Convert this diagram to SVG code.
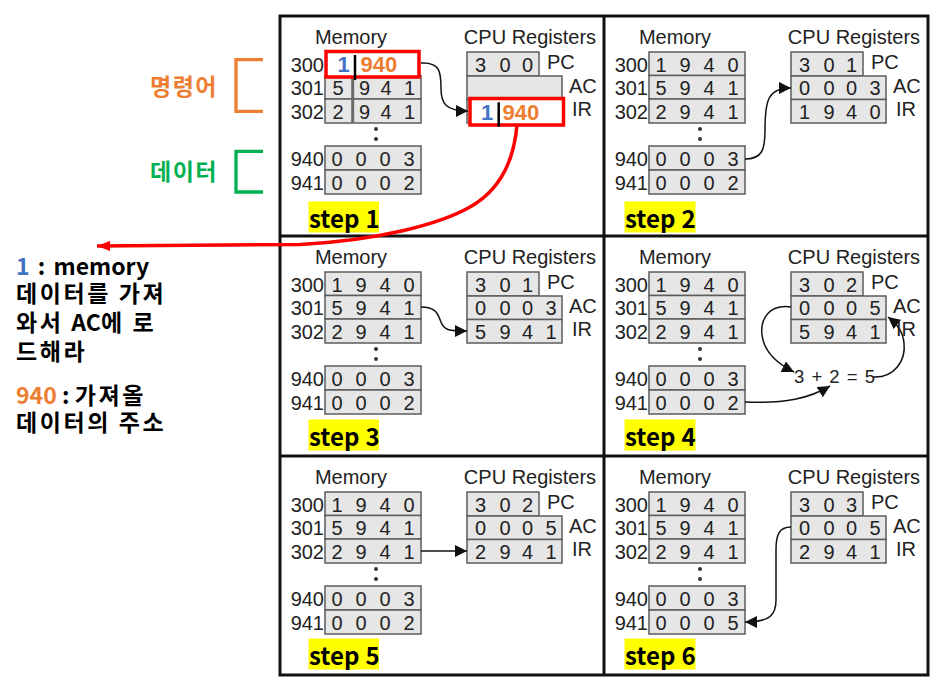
<svg xmlns="http://www.w3.org/2000/svg" width="950" height="690" viewBox="0 0 950 690">
<defs>
<style>
.t{font-family:"Liberation Sans",Arial,sans-serif;font-size:20px;fill:#222}
.m{text-anchor:middle}
.e{text-anchor:end}
.c{fill:#e6e6e6;stroke:#5c5c5c;stroke-width:1.5}
.st{fill:#ffff00}
.sl{font-family:"Noto Sans CJK KR","Noto Sans",sans-serif;font-weight:700;font-size:24px;fill:#000}
.kr{font-family:"Noto Sans CJK KR","Noto Sans",sans-serif;font-weight:700;font-size:23px;fill:#000}
.ls{letter-spacing:2.6px}
.dot{fill:#333}
.conn{fill:none;stroke:#111;stroke-width:1.5;marker-end:url(#ah)}
.red{fill:none;stroke:#ff0000;stroke-width:3.5}
.hl{font-family:"Liberation Sans",Arial,sans-serif;font-weight:700;font-size:22px}
</style>
<marker id="ah" viewBox="0 0 12 12" refX="12" refY="6" markerWidth="12" markerHeight="12" markerUnits="userSpaceOnUse" orient="auto"><path d="M0,0 L12,6 L0,12 z" fill="#111"/></marker>
<marker id="rah" viewBox="0 0 13 10" refX="13" refY="5" markerWidth="13" markerHeight="10" markerUnits="userSpaceOnUse" orient="auto"><path d="M0,0 L13,5 L0,10 z" fill="#ff0000"/></marker>
</defs>
<rect width="950" height="690" fill="#fff"/>

<g id="frame" fill="none" stroke="#111" stroke-width="3">
<rect x="280" y="16" width="648" height="659"/>
<line x1="604" y1="16" x2="604" y2="675"/>
<line x1="280" y1="236" x2="928" y2="236"/>
<line x1="280" y1="456" x2="928" y2="456"/>
</g>

<g id="legend">
<text class="kr" x="150" y="95" style="fill:#ED7D31;letter-spacing:1.5px">명령어</text>
<path d="M263,59.7 L236,59.7 L236,111.3 L263,111.3" fill="none" stroke="#ED7D31" stroke-width="3.3"/>
<text class="kr" x="150" y="180" style="fill:#00B050;letter-spacing:1.5px">데이터</text>
<path d="M263,151.3 L236,151.3 L236,192 L263,192" fill="none" stroke="#00B050" stroke-width="3.3"/>
</g>

<g id="explanation">
<text class="kr" x="16" y="275" style="word-spacing:3px"><tspan style="fill:#4472C4">1</tspan> : memory</text>
<text class="kr ls" x="16" y="302">데이터를 가져</text>
<text class="kr" x="16" y="331"><tspan class="ls">와서 </tspan>AC<tspan class="ls">에 로</tspan></text>
<text class="kr ls" x="16" y="360">드해라</text>
<text class="kr" x="16" y="404"><tspan style="fill:#ED7D31">940</tspan> : <tspan class="ls">가져올</tspan></text>
<text class="kr ls" x="16" y="431">데이터의 주소</text>
</g>

<!-- STEP 1 -->
<g id="step1" transform="translate(280,16)">
<text class="t m" x="71" y="27.5">Memory</text>
<text class="t m" x="250" y="27.5">CPU Registers</text>
<g id="step1-memory">
<rect class="c" x="45" y="59.5" width="96" height="23.5"/>
<rect class="c" x="45" y="83" width="96" height="24"/>
<rect class="c" x="45" y="130" width="96" height="24"/>
<rect class="c" x="45" y="154" width="96" height="24"/>
<line x1="72.7" y1="61" x2="72.7" y2="107" stroke="#6a6a6a" stroke-width="3"/>
<rect x="46" y="35.5" width="93" height="25.5" fill="#fff" stroke="#ff0000" stroke-width="3.5"/>
<text class="hl m" x="63.5" y="56.3" fill="#4472C4">1</text>
<line x1="75" y1="39" x2="75" y2="64" stroke="#000" stroke-width="2.5"/>
<text class="hl" x="80.5" y="56.3" fill="#ED7D31">940</text>
<text class="t e" x="44" y="55.5">300</text>
<text class="t e" x="44" y="79">301</text>
<text class="t e" x="44" y="102.5">302</text>
<text class="t e" x="44" y="149.5">940</text>
<text class="t e" x="44" y="173.5">941</text>
<text class="t m" y="79"><tspan x="58">5</tspan><tspan x="84.5">9</tspan><tspan x="106">4</tspan><tspan x="129.5">1</tspan></text>
<text class="t m" y="102.5"><tspan x="58">2</tspan><tspan x="84.5">9</tspan><tspan x="106">4</tspan><tspan x="129.5">1</tspan></text>
<text class="t m" y="149.5"><tspan x="57">0</tspan><tspan x="81">0</tspan><tspan x="105">0</tspan><tspan x="129">3</tspan></text>
<text class="t m" y="173.5"><tspan x="57">0</tspan><tspan x="81">0</tspan><tspan x="105">0</tspan><tspan x="129">2</tspan></text>
<circle class="dot" cx="96" cy="113" r="2"/><circle class="dot" cx="96" cy="123" r="2"/>
</g>
<g id="step1-registers">
<rect class="c" x="187" y="36" width="72" height="24"/>
<rect class="c" x="187" y="60" width="95" height="23.5"/>
<rect class="c" x="187" y="83.5" width="95" height="23.5"/>
<text class="t m" y="55.5"><tspan x="200.5">3</tspan><tspan x="225">0</tspan><tspan x="247.5">0</tspan></text>
<rect x="190" y="82.5" width="93.5" height="26.5" fill="#fff" stroke="#ff0000" stroke-width="3.5"/>
<text class="hl m" x="207" y="104" fill="#4472C4">1</text>
<line x1="218.7" y1="86.3" x2="218.7" y2="110.7" stroke="#000" stroke-width="2.5"/>
<text class="hl" x="222.5" y="104" fill="#ED7D31">940</text>
<text class="t" x="267" y="53">PC</text>
<text class="t" x="289" y="76.5">AC</text>
<text class="t" x="292" y="100">IR</text>
</g>
<rect class="st" x="28.5" y="185.5" width="70.5" height="31"/>
<text class="sl" x="29" y="211.5">step<tspan x="85.5">1</tspan></text>
</g>

<!-- STEP 2 -->
<g id="step2" transform="translate(604,16)">
<text class="t m" x="71" y="27.5">Memory</text>
<text class="t m" x="250" y="27.5">CPU Registers</text>
<g id="step2-memory">
<rect class="c" x="45" y="36" width="96" height="23.5"/>
<rect class="c" x="45" y="59.5" width="96" height="23.5"/>
<rect class="c" x="45" y="83" width="96" height="24"/>
<rect class="c" x="45" y="130" width="96" height="24"/>
<rect class="c" x="45" y="154" width="96" height="24"/>
<text class="t e" x="44" y="55.5">300</text>
<text class="t e" x="44" y="79">301</text>
<text class="t e" x="44" y="102.5">302</text>
<text class="t e" x="44" y="149.5">940</text>
<text class="t e" x="44" y="173.5">941</text>
<text class="t m" y="55.5"><tspan x="57">1</tspan><tspan x="81">9</tspan><tspan x="105">4</tspan><tspan x="129">0</tspan></text>
<text class="t m" y="79"><tspan x="57">5</tspan><tspan x="81">9</tspan><tspan x="105">4</tspan><tspan x="129">1</tspan></text>
<text class="t m" y="102.5"><tspan x="57">2</tspan><tspan x="81">9</tspan><tspan x="105">4</tspan><tspan x="129">1</tspan></text>
<text class="t m" y="149.5"><tspan x="57">0</tspan><tspan x="81">0</tspan><tspan x="105">0</tspan><tspan x="129">3</tspan></text>
<text class="t m" y="173.5"><tspan x="57">0</tspan><tspan x="81">0</tspan><tspan x="105">0</tspan><tspan x="129">2</tspan></text>
<circle class="dot" cx="96" cy="113" r="2"/><circle class="dot" cx="96" cy="123" r="2"/>
</g>
<g id="step2-registers">
<rect class="c" x="187" y="36" width="72" height="24"/>
<rect class="c" x="187" y="60" width="95" height="23.5"/>
<rect class="c" x="187" y="83.5" width="95" height="23.5"/>
<text class="t m" y="55.5"><tspan x="200.5">3</tspan><tspan x="225">0</tspan><tspan x="247.5">1</tspan></text>
<text class="t m" y="79"><tspan x="200.5">0</tspan><tspan x="225">0</tspan><tspan x="247.5">0</tspan><tspan x="271">3</tspan></text>
<text class="t m" y="102.5"><tspan x="200.5">1</tspan><tspan x="225">9</tspan><tspan x="247.5">4</tspan><tspan x="271">0</tspan></text>
<text class="t" x="267" y="53">PC</text>
<text class="t" x="289" y="76.5">AC</text>
<text class="t" x="292" y="100">IR</text>
</g>
<rect class="st" x="20.5" y="185.5" width="71" height="31"/>
<text class="sl" x="21" y="211.5">step<tspan x="77.5">2</tspan></text>
</g>

<!-- STEP 3 -->
<g id="step3" transform="translate(280,236)">
<text class="t m" x="71" y="27.5">Memory</text>
<text class="t m" x="250" y="27.5">CPU Registers</text>
<g id="step3-memory">
<rect class="c" x="45" y="36" width="96" height="23.5"/>
<rect class="c" x="45" y="59.5" width="96" height="23.5"/>
<rect class="c" x="45" y="83" width="96" height="24"/>
<rect class="c" x="45" y="130" width="96" height="24"/>
<rect class="c" x="45" y="154" width="96" height="24"/>
<text class="t e" x="44" y="55.5">300</text>
<text class="t e" x="44" y="79">301</text>
<text class="t e" x="44" y="102.5">302</text>
<text class="t e" x="44" y="149.5">940</text>
<text class="t e" x="44" y="173.5">941</text>
<text class="t m" y="55.5"><tspan x="57">1</tspan><tspan x="81">9</tspan><tspan x="105">4</tspan><tspan x="129">0</tspan></text>
<text class="t m" y="79"><tspan x="57">5</tspan><tspan x="81">9</tspan><tspan x="105">4</tspan><tspan x="129">1</tspan></text>
<text class="t m" y="102.5"><tspan x="57">2</tspan><tspan x="81">9</tspan><tspan x="105">4</tspan><tspan x="129">1</tspan></text>
<text class="t m" y="149.5"><tspan x="57">0</tspan><tspan x="81">0</tspan><tspan x="105">0</tspan><tspan x="129">3</tspan></text>
<text class="t m" y="173.5"><tspan x="57">0</tspan><tspan x="81">0</tspan><tspan x="105">0</tspan><tspan x="129">2</tspan></text>
<circle class="dot" cx="96" cy="113" r="2"/><circle class="dot" cx="96" cy="123" r="2"/>
</g>
<g id="step3-registers">
<rect class="c" x="187" y="36" width="72" height="24"/>
<rect class="c" x="187" y="60" width="95" height="23.5"/>
<rect class="c" x="187" y="83.5" width="95" height="23.5"/>
<text class="t m" y="55.5"><tspan x="200.5">3</tspan><tspan x="225">0</tspan><tspan x="247.5">1</tspan></text>
<text class="t m" y="79"><tspan x="200.5">0</tspan><tspan x="225">0</tspan><tspan x="247.5">0</tspan><tspan x="271">3</tspan></text>
<text class="t m" y="102.5"><tspan x="200.5">5</tspan><tspan x="225">9</tspan><tspan x="247.5">4</tspan><tspan x="271">1</tspan></text>
<text class="t" x="267" y="53">PC</text>
<text class="t" x="289" y="76.5">AC</text>
<text class="t" x="292" y="100">IR</text>
</g>
<rect class="st" x="28.5" y="183.5" width="70.5" height="31"/>
<text class="sl" x="29" y="209.5">step<tspan x="85.5">3</tspan></text>
</g>

<!-- STEP 4 -->
<g id="step4" transform="translate(604,236)">
<text class="t m" x="71" y="27.5">Memory</text>
<text class="t m" x="250" y="27.5">CPU Registers</text>
<g id="step4-memory">
<rect class="c" x="45" y="36" width="96" height="23.5"/>
<rect class="c" x="45" y="59.5" width="96" height="23.5"/>
<rect class="c" x="45" y="83" width="96" height="24"/>
<rect class="c" x="45" y="130" width="96" height="24"/>
<rect class="c" x="45" y="154" width="96" height="24"/>
<text class="t e" x="44" y="55.5">300</text>
<text class="t e" x="44" y="79">301</text>
<text class="t e" x="44" y="102.5">302</text>
<text class="t e" x="44" y="149.5">940</text>
<text class="t e" x="44" y="173.5">941</text>
<text class="t m" y="55.5"><tspan x="57">1</tspan><tspan x="81">9</tspan><tspan x="105">4</tspan><tspan x="129">0</tspan></text>
<text class="t m" y="79"><tspan x="57">5</tspan><tspan x="81">9</tspan><tspan x="105">4</tspan><tspan x="129">1</tspan></text>
<text class="t m" y="102.5"><tspan x="57">2</tspan><tspan x="81">9</tspan><tspan x="105">4</tspan><tspan x="129">1</tspan></text>
<text class="t m" y="149.5"><tspan x="57">0</tspan><tspan x="81">0</tspan><tspan x="105">0</tspan><tspan x="129">3</tspan></text>
<text class="t m" y="173.5"><tspan x="57">0</tspan><tspan x="81">0</tspan><tspan x="105">0</tspan><tspan x="129">2</tspan></text>
<circle class="dot" cx="96" cy="113" r="2"/><circle class="dot" cx="96" cy="123" r="2"/>
</g>
<g id="step4-registers">
<rect class="c" x="187" y="36" width="72" height="24"/>
<rect class="c" x="187" y="60" width="95" height="23.5"/>
<rect class="c" x="187" y="83.5" width="95" height="23.5"/>
<text class="t m" y="55.5"><tspan x="200.5">3</tspan><tspan x="225">0</tspan><tspan x="247.5">2</tspan></text>
<text class="t m" y="79"><tspan x="200.5">0</tspan><tspan x="225">0</tspan><tspan x="247.5">0</tspan><tspan x="271">5</tspan></text>
<text class="t m" y="102.5"><tspan x="200.5">5</tspan><tspan x="225">9</tspan><tspan x="247.5">4</tspan><tspan x="271">1</tspan></text>
<text class="t" x="267" y="53">PC</text>
<text class="t" x="289" y="76.5">AC</text>
<text class="t" x="292" y="100">IR</text>
</g>
<text class="t" x="190" y="147.3" style="font-size:18.5px;letter-spacing:1px">3 + 2 = 5</text>
<rect class="st" x="20.5" y="183.5" width="71" height="31"/>
<text class="sl" x="21" y="209.5">step<tspan x="77.5">4</tspan></text>
</g>

<!-- STEP 5 -->
<g id="step5" transform="translate(280,456)">
<text class="t m" x="71" y="27.5">Memory</text>
<text class="t m" x="250" y="27.5">CPU Registers</text>
<g id="step5-memory">
<rect class="c" x="45" y="36" width="96" height="23.5"/>
<rect class="c" x="45" y="59.5" width="96" height="23.5"/>
<rect class="c" x="45" y="83" width="96" height="24"/>
<rect class="c" x="45" y="130" width="96" height="24"/>
<rect class="c" x="45" y="154" width="96" height="24"/>
<text class="t e" x="44" y="55.5">300</text>
<text class="t e" x="44" y="79">301</text>
<text class="t e" x="44" y="102.5">302</text>
<text class="t e" x="44" y="149.5">940</text>
<text class="t e" x="44" y="173.5">941</text>
<text class="t m" y="55.5"><tspan x="57">1</tspan><tspan x="81">9</tspan><tspan x="105">4</tspan><tspan x="129">0</tspan></text>
<text class="t m" y="79"><tspan x="57">5</tspan><tspan x="81">9</tspan><tspan x="105">4</tspan><tspan x="129">1</tspan></text>
<text class="t m" y="102.5"><tspan x="57">2</tspan><tspan x="81">9</tspan><tspan x="105">4</tspan><tspan x="129">1</tspan></text>
<text class="t m" y="149.5"><tspan x="57">0</tspan><tspan x="81">0</tspan><tspan x="105">0</tspan><tspan x="129">3</tspan></text>
<text class="t m" y="173.5"><tspan x="57">0</tspan><tspan x="81">0</tspan><tspan x="105">0</tspan><tspan x="129">2</tspan></text>
<circle class="dot" cx="96" cy="113" r="2"/><circle class="dot" cx="96" cy="123" r="2"/>
</g>
<g id="step5-registers">
<rect class="c" x="187" y="36" width="72" height="24"/>
<rect class="c" x="187" y="60" width="95" height="23.5"/>
<rect class="c" x="187" y="83.5" width="95" height="23.5"/>
<text class="t m" y="55.5"><tspan x="200.5">3</tspan><tspan x="225">0</tspan><tspan x="247.5">2</tspan></text>
<text class="t m" y="79"><tspan x="200.5">0</tspan><tspan x="225">0</tspan><tspan x="247.5">0</tspan><tspan x="271">5</tspan></text>
<text class="t m" y="102.5"><tspan x="200.5">2</tspan><tspan x="225">9</tspan><tspan x="247.5">4</tspan><tspan x="271">1</tspan></text>
<text class="t" x="267" y="53">PC</text>
<text class="t" x="289" y="76.5">AC</text>
<text class="t" x="292" y="100">IR</text>
</g>
<rect class="st" x="28.5" y="182.5" width="70.5" height="31"/>
<text class="sl" x="29" y="208.5">step<tspan x="85.5">5</tspan></text>
</g>

<!-- STEP 6 -->
<g id="step6" transform="translate(604,456)">
<text class="t m" x="71" y="27.5">Memory</text>
<text class="t m" x="250" y="27.5">CPU Registers</text>
<g id="step6-memory">
<rect class="c" x="45" y="36" width="96" height="23.5"/>
<rect class="c" x="45" y="59.5" width="96" height="23.5"/>
<rect class="c" x="45" y="83" width="96" height="24"/>
<rect class="c" x="45" y="130" width="96" height="24"/>
<rect class="c" x="45" y="154" width="96" height="24"/>
<text class="t e" x="44" y="55.5">300</text>
<text class="t e" x="44" y="79">301</text>
<text class="t e" x="44" y="102.5">302</text>
<text class="t e" x="44" y="149.5">940</text>
<text class="t e" x="44" y="173.5">941</text>
<text class="t m" y="55.5"><tspan x="57">1</tspan><tspan x="81">9</tspan><tspan x="105">4</tspan><tspan x="129">0</tspan></text>
<text class="t m" y="79"><tspan x="57">5</tspan><tspan x="81">9</tspan><tspan x="105">4</tspan><tspan x="129">1</tspan></text>
<text class="t m" y="102.5"><tspan x="57">2</tspan><tspan x="81">9</tspan><tspan x="105">4</tspan><tspan x="129">1</tspan></text>
<text class="t m" y="149.5"><tspan x="57">0</tspan><tspan x="81">0</tspan><tspan x="105">0</tspan><tspan x="129">3</tspan></text>
<text class="t m" y="173.5"><tspan x="57">0</tspan><tspan x="81">0</tspan><tspan x="105">0</tspan><tspan x="129">5</tspan></text>
<circle class="dot" cx="96" cy="113" r="2"/><circle class="dot" cx="96" cy="123" r="2"/>
</g>
<g id="step6-registers">
<rect class="c" x="187" y="36" width="72" height="24"/>
<rect class="c" x="187" y="60" width="95" height="23.5"/>
<rect class="c" x="187" y="83.5" width="95" height="23.5"/>
<text class="t m" y="55.5"><tspan x="200.5">3</tspan><tspan x="225">0</tspan><tspan x="247.5">3</tspan></text>
<text class="t m" y="79"><tspan x="200.5">0</tspan><tspan x="225">0</tspan><tspan x="247.5">0</tspan><tspan x="271">5</tspan></text>
<text class="t m" y="102.5"><tspan x="200.5">2</tspan><tspan x="225">9</tspan><tspan x="247.5">4</tspan><tspan x="271">1</tspan></text>
<text class="t" x="267" y="53">PC</text>
<text class="t" x="289" y="76.5">AC</text>
<text class="t" x="292" y="100">IR</text>
</g>
<rect class="st" x="20.5" y="182.5" width="71" height="31"/>
<text class="sl" x="21" y="208.5">step<tspan x="77.5">6</tspan></text>
</g>

<g id="connectors">
<path class="conn" d="M421,63 C440,62 441,72 441,88 C441,104 446,111 468,111"/>
<path class="conn" d="M745,159 C762,159 765,150 765,130 C765,100 768,88 791,88"/>
<path class="conn" d="M421,307 C437,307 438,315 441,322 C444,330 448,331 467,331"/>
<path class="conn" d="M791,307 C770,304 760,318 762,335 C764,352 778,364 794,372"/>
<path class="conn" d="M745,402 C785,404 810,398 830,386"/>
<path class="conn" d="M873,377 C895,378 906,360 904,343 C903,332 898,325 888,317"/>
<path class="conn" d="M421,551 L467,551"/>
<path class="conn" d="M791,527 C779,527 776,535 776,550 L776,600 C776,615 770,622 745,622"/>
<path class="red" marker-end="url(#rah)" d="M517,125 C514,160 500,190 470,207 C440,224 380,240 300,244.5 L97,246"/>
</g>
</svg>
